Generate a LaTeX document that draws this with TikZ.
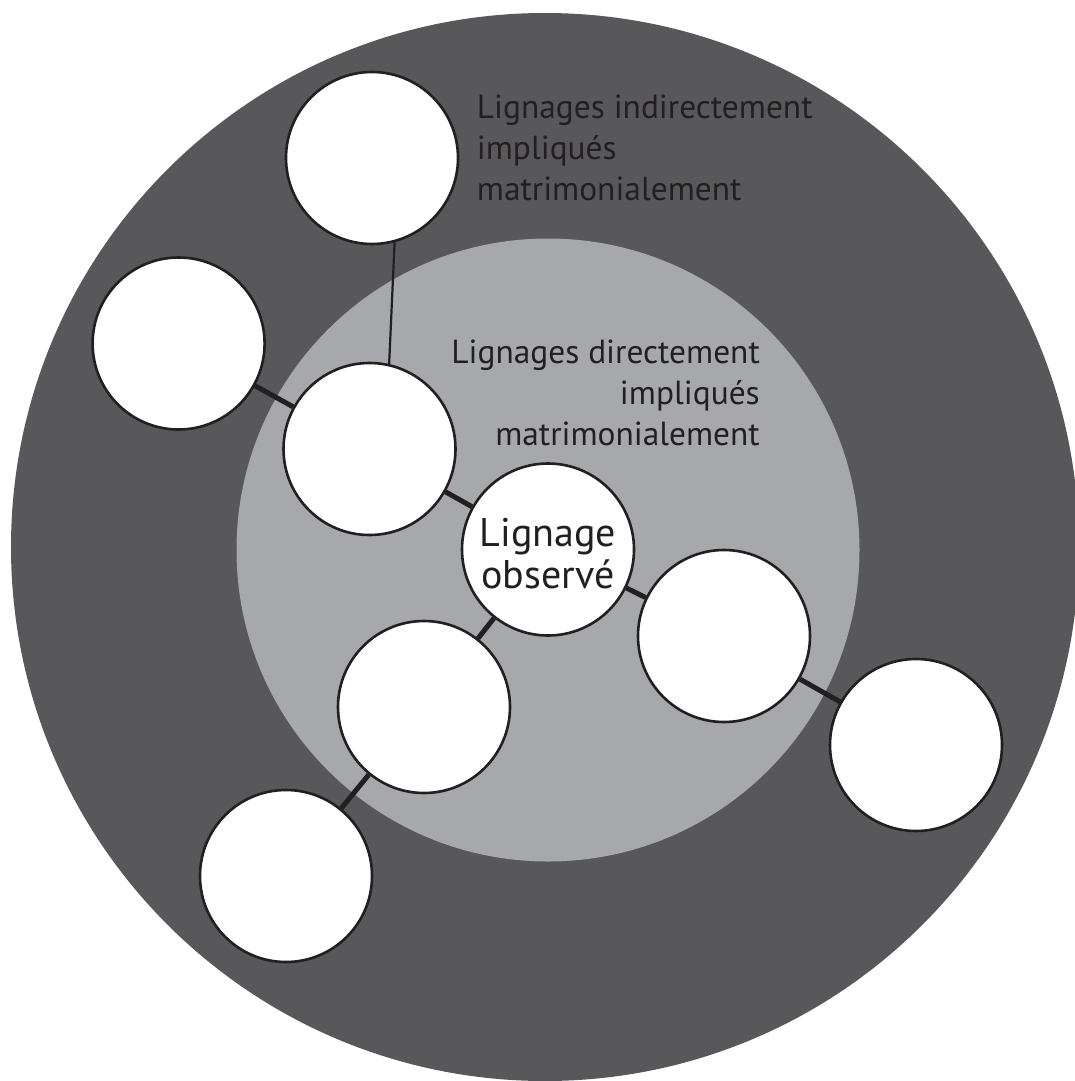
\documentclass[tikz,border=0pt]{standalone}
\usepackage{fontspec}
\setmainfont{PT Sans}
\definecolor{outerbg}{HTML}{58585A}
\definecolor{innerbg}{HTML}{A7A8AB}
\definecolor{ink}{HTML}{231F20}
\begin{document}
\begin{tikzpicture}[x=1pt,y=-1pt,
  lin/.style={circle, draw=ink, line width=2.6pt, fill=white, minimum size=172pt, inner sep=0pt},
  link/.style={draw=ink, line width=5pt},
  thinlink/.style={draw=ink, line width=2.2pt},
  lbl/.style={text=ink, font=\fontsize{33.4}{41}\selectfont, inner sep=0pt},
  obs/.style={text=ink, font=\fontsize{40}{41.6}\selectfont, align=center}]
\useasboundingbox (0,0) rectangle (1075,1081);
\clip (0,0) rectangle (1075,1081);
\fill[outerbg] (545,547) circle[radius=534pt];
\fill[innerbg] (548,550) circle[radius=311.5pt];

\node[lin] (top) at (372,158) {};
\node[lin] (left) at (178.6,343.5) {};
\node[lin] (mid) at (369.5,449) {};
\node[lin, obs] (obsv) at (548,549.5) {\rule{0pt}{37pt}Lignage\\observé};
\node[lin] (rin) at (724,636) {};
\node[lin] (bin) at (424,707) {};
\node[lin] (rout) at (916,745) {};
\node[lin] (bout) at (286,876) {};

\draw[thinlink] (top.-75) -- (mid.77);
\draw[link] (left) -- (mid);
\draw[link] (mid) -- (obsv);
\draw[link] (obsv) -- (rin);
\draw[link] (obsv) -- (bin);
\draw[link] (rin) -- (rout);
\draw[link] (bin) -- (bout);

\node[lbl, anchor=base west] (ind1) at (476.7,118.3) {Lignages indirectement};
\node[lbl, anchor=base west] (ind2) at (476.7,159.3) {impliqués};
\node[lbl, anchor=base west] (ind3) at (476.7,200.3) {matrimonialement};

\node[lbl, anchor=base east] (dir1) at (760,363.3) {Lignages directement};
\node[lbl, anchor=base east] (dir2) at (760,404.3) {impliqués};
\node[lbl, anchor=base east] (dir3) at (760,445.3) {matrimonialement};
\end{tikzpicture}
\end{document}
